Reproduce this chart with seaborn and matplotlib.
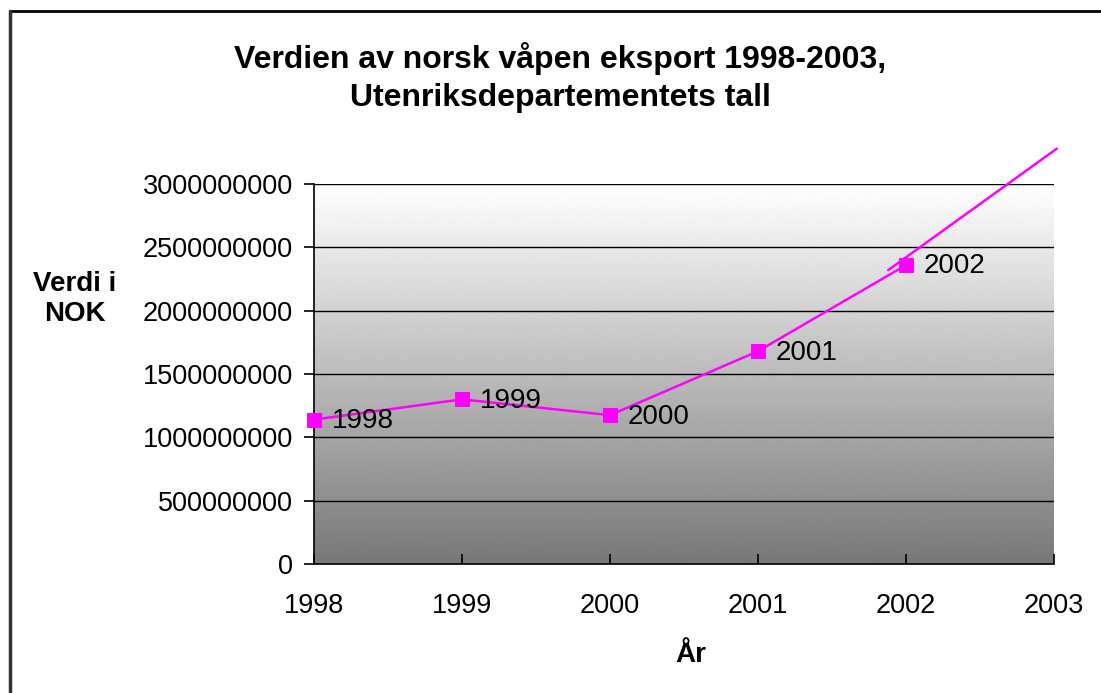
"""
Verdien av norsk våpeneksport 1998-2003 (Excel-style line chart)
"""
import numpy as np
import pandas as pd
import matplotlib
matplotlib.use("Agg")
import matplotlib.pyplot as plt
import seaborn as sns

# data
years = [1998, 1999, 2000, 2001, 2002]
values = [1.14e9, 1.30e9, 1.175e9, 1.68e9, 2.36e9]
point_labels = ["1998", "1999", "2000", "2001", "2002"]

# the extra straight line running out of the plot past 2003
trend_x = [2001.88, 2003.02]
trend_y = [2.32e9, 3.28e9]

y_ticks = [0, 5e8, 1e9, 1.5e9, 2e9, 2.5e9, 3e9]
x_ticks = [1998, 1999, 2000, 2001, 2002, 2003]

sns.set_style("white")
plt.rcParams['font.family'] = ['Liberation Sans', 'DejaVu Sans']
plt.rcParams['text.color'] = 'black'
plt.rcParams['xtick.color'] = 'black'
plt.rcParams['ytick.color'] = 'black'

df = pd.DataFrame({"year": years, "value": values})

fig = plt.figure(figsize=(11.01, 6.93), dpi=100)
ax = fig.add_axes([0.2852, 0.1861, 0.6721, 0.5484])

# grey gradient background, white on top
grad = np.linspace(1.0, 0.47, 256).reshape(-1, 1)
ax.imshow(grad, cmap="gray", vmin=0, vmax=1, aspect="auto",
          extent=[1998, 2003, 0, 3e9], zorder=0)
ax.set_xlim(1998, 2003)
ax.set_ylim(0, 3e9)

for t in y_ticks[1:]:
    ax.axhline(t, color="black", lw=1.0, zorder=1)

sns.lineplot(data=df, x="year", y="value", ax=ax, color="#ff00ff",
             lw=1.8, marker="s", markersize=9.5, markeredgecolor="#ff00ff",
             zorder=3, clip_on=False)
ax.plot(trend_x, trend_y, color="#ff00ff", lw=1.8, zorder=3, clip_on=False)

for x, y, lab in zip(years, values, point_labels):
    ax.annotate(lab, (x, y), xytext=(13, -1), textcoords="offset points",
                ha="left", va="center", fontsize=20, color="black", zorder=4)

ax.set_xticks(x_ticks)
ax.set_xticklabels([str(x) for x in x_ticks], fontsize=19.5)
ax.set_yticks(y_ticks)
ax.set_yticklabels([str(int(t)) for t in y_ticks], fontsize=19.5)
ax.tick_params(axis="y", direction="out", length=7, width=1.2, pad=8, left=True)
ax.tick_params(axis="x", direction="in", length=7, width=1.2, pad=21, bottom=True)

for s in ["top", "right"]:
    ax.spines[s].set_visible(False)
for s in ["left", "bottom"]:
    ax.spines[s].set_color("black")
    ax.spines[s].set_linewidth(1.2)

ax.set_xlabel("")
ax.set_ylabel("")
fig.text(0.068, 0.568, "Verdi i\nNOK", ha="center", va="center",
         fontsize=20, fontweight="bold", linespacing=1.2)
fig.text(0.627, 0.055, "År", ha="center", va="center",
         fontsize=20, fontweight="bold")
fig.text(0.509, 0.888, "Verdien av norsk våpen eksport 1998-2003,\nUtenriksdepartementets tall",
         ha="center", va="center", fontsize=23, fontweight="bold", linespacing=1.35)

# figure border (top and left edges)
fig.add_artist(plt.Line2D([0.0091, 1.0], [0.984, 0.984], color="black", lw=2,
                          transform=fig.transFigure))
fig.add_artist(plt.Line2D([0.0091, 0.0091], [0.0, 0.984], color="#333333", lw=2.5,
                          transform=fig.transFigure))

fig.savefig("out.png", dpi=100)
